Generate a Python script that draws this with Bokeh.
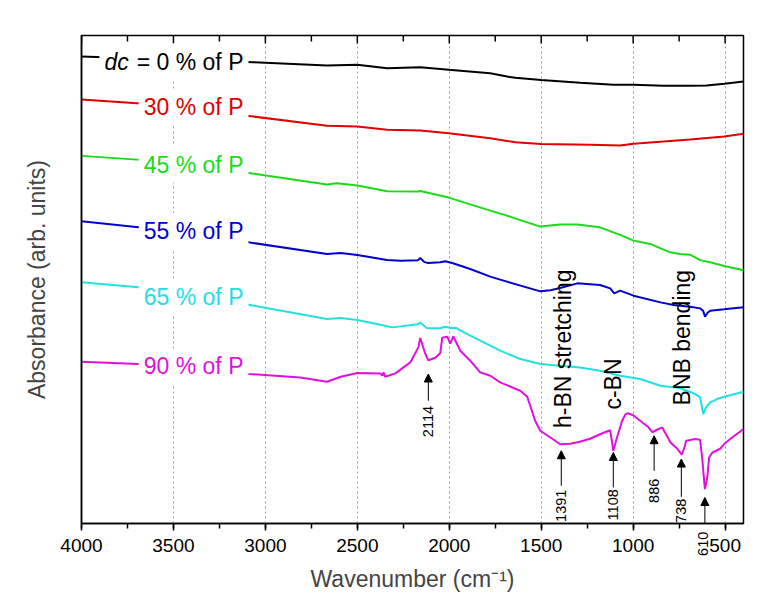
import math
from bokeh.plotting import figure
from bokeh.models import (Range1d, SingleIntervalTicker, FixedTicker,
                          Label, Arrow, NormalHead)
from bokeh.embed import file_html
from bokeh.resources import INLINE

# ---------------- data (wavenumber in cm-1, absorbance in arb. units, offset) ----------
wn_0 = [4000, 3065, 2665, 2500, 2338, 2158, 2003, 1777, 1686, 1641, 1500, 1288, 1107,
        998, 836, 690, 600, 505, 400]
ab_0 = [4.667, 4.610, 4.577, 4.584, 4.550, 4.560, 4.534, 4.500, 4.467, 4.454, 4.432,
        4.404, 4.384, 4.384, 4.374, 4.375, 4.377, 4.394, 4.417]

wn_30 = [4000, 3679, 3065, 2665, 2500, 2338, 2158, 2003, 1777, 1641, 1500, 1234, 1071,
         998, 690, 505, 400]
ab_30 = [4.237, 4.197, 4.067, 3.974, 3.967, 3.934, 3.927, 3.900, 3.850, 3.810, 3.792,
         3.784, 3.777, 3.794, 3.837, 3.867, 3.894]

wn_45 = [4000, 3679, 3081, 2665, 2612, 2500, 2338, 2170, 2158, 2003, 1777, 1686, 1505,
         1397, 1304, 1180, 1071, 998, 908, 800, 745, 690, 636, 581, 505, 400]
ab_45 = [3.674, 3.634, 3.500, 3.387, 3.400, 3.377, 3.320, 3.317, 3.322, 3.257, 3.127,
         3.077, 2.967, 2.987, 2.987, 2.960, 2.884, 2.827, 2.794, 2.710, 2.694, 2.687,
         2.632, 2.610, 2.574, 2.530]

wn_55 = [4000, 3690, 3091, 2665, 2590, 2500, 2338, 2266, 2170, 2158, 2135, 2114, 2049,
         2022, 1984, 1886, 1777, 1723, 1505, 1450, 1397, 1304, 1180, 1125, 1103, 1071,
         998, 851, 780, 690, 636, 620, 609, 595, 581, 505, 400]
ab_55 = [3.020, 2.960, 2.810, 2.694, 2.704, 2.684, 2.634, 2.627, 2.632, 2.654, 2.612,
         2.604, 2.610, 2.620, 2.604, 2.544, 2.467, 2.437, 2.320, 2.332, 2.354, 2.400,
         2.384, 2.350, 2.300, 2.327, 2.277, 2.210, 2.184, 2.167, 2.150, 2.127, 2.067,
         2.107, 2.127, 2.140, 2.160]

wn_65 = [4000, 3690, 3091, 2665, 2590, 2500, 2375, 2310, 2170, 2158, 2120, 2049, 2022,
         1984, 1967, 1886, 1723, 1614, 1505, 1397, 1288, 1180, 1071, 962, 851, 745, 663,
         636, 619, 604, 581, 560, 540, 505, 400]
ab_65 = [2.410, 2.360, 2.187, 2.044, 2.054, 2.034, 1.987, 1.960, 1.992, 2.007, 1.952,
         1.952, 1.967, 1.952, 1.957, 1.877, 1.727, 1.644, 1.594, 1.577, 1.560, 1.527,
         1.477, 1.444, 1.377, 1.354, 1.294, 1.260, 1.094, 1.160, 1.210, 1.227, 1.247,
         1.267, 1.317]

wn_90 = [4000, 3690, 3091, 2810, 2665, 2590, 2500, 2375, 2364, 2357, 2349, 2293, 2212,
         2168, 2158, 2130, 2114, 2076, 2049, 2038, 2011, 1995, 1978, 1940, 1886, 1832,
         1777, 1723, 1614, 1576, 1533, 1505, 1440, 1397, 1342, 1290, 1234, 1180, 1125,
         1108, 1090, 1060, 1043, 1028, 1000, 962, 920, 896, 870, 842, 826, 797, 760, 745,
         735, 720, 712, 690, 663, 636, 625, 610, 597, 587, 570, 549, 527, 505, 472, 400]
ab_90 = [1.617, 1.594, 1.494, 1.460, 1.417, 1.467, 1.504, 1.500, 1.477, 1.510, 1.467,
         1.500, 1.610, 1.760, 1.854, 1.694, 1.632, 1.657, 1.702, 1.857, 1.867, 1.797,
         1.870, 1.727, 1.627, 1.510, 1.477, 1.410, 1.327, 1.267, 1.027, 0.927, 0.847,
         0.792, 0.797, 0.817, 0.847, 0.892, 0.932, 0.727, 0.847, 1.027, 1.087, 1.102,
         1.082, 1.027, 0.967, 0.912, 0.937, 0.960, 0.907, 0.810, 0.747, 0.710, 0.687,
         0.767, 0.827, 0.834, 0.844, 0.837, 0.660, 0.344, 0.460, 0.660, 0.707, 0.727,
         0.747, 0.794, 0.844, 0.944]

series_wn = [wn_0, wn_30, wn_45, wn_55, wn_65, wn_90]
series_ab = [ab_0, ab_30, ab_45, ab_55, ab_65, ab_90]
series_labels = ["= 0 % of P", "30 % of P", "45 % of P", "55 % of P", "65 % of P", "90 % of P"]
series_colors = ["#000000", "#e00000", "#18dc18", "#0000d0", "#22e0e0", "#e010e0"]

# marked peaks (cm-1)
peak_wn = [2114, 1391, 1108, 886, 738, 610]
peak_text = ["2114", "1391", "1108", "886", "738", "610"]

band_text = ["h-BN stretching", "c-BN", "BNB bending"]

# x ticks (cm-1)
major_ticks = [500, 1000, 1500, 2000, 2500, 3000, 3500, 4000]
minor_ticks = [750, 1250, 1750, 2250, 2750, 3250, 3750]

# ---------------- layout / placement ----------------
X0, X1, Y0, Y1 = 4000, 400, 0, 4.877
label_x = 3092
label_y = [4.617, 4.160, 3.587, 2.920, 2.267, 1.570]
arrow_tip = [1.494, 0.727, 0.710, 0.877, 0.644, 0.260]
arrow_tail = [1.227, 0.377, 0.360, 0.527, 0.267, 0.0]
ptext_x = [2114, 1391, 1108, 886, 738, 618]
ptext_y = [1.019, 0.177, 0.187, 0.327, 0.127, -0.203]
band_x = [1382, 1107, 735]
band_y = [1.747, 1.394, 1.857]

FONT = "Liberation Sans"

p = figure(width=759, height=596, x_range=Range1d(X0, X1), y_range=Range1d(Y0, Y1),
           output_backend="svg", toolbar_location=None,
           min_border_left=81, min_border_right=16, min_border_top=35, min_border_bottom=73,
           x_axis_label="Wavenumber (cm\u207b\u00b9)", y_axis_label="Absorbance (arb. units)")
p.background_fill_color = "white"
p.border_fill_color = "white"
p.outline_line_color = "black"
p.outline_line_width = 1.5
p.ygrid.visible = False

xt = SingleIntervalTicker(interval=500, num_minor_ticks=2)
bx = p.xaxis[0]
bx.ticker = xt
bx.axis_line_width = 1.5
bx.major_tick_line_width = 1.5
bx.minor_tick_line_width = 1.5
bx.major_tick_in = 0
bx.major_tick_out = 7
bx.minor_tick_in = 0
bx.minor_tick_out = 5
bx.major_label_standoff = 8
bx.major_label_text_font = FONT
bx.major_label_text_font_size = "19px"
bx.major_label_text_color = "black"
bx.axis_label_text_font = FONT
bx.axis_label_text_font_size = "23px"
bx.axis_label_text_font_style = "normal"
bx.axis_label_standoff = 11

p.xgrid.ticker = xt
p.xgrid.grid_line_color = "#9a9a9a"
p.xgrid.grid_line_dash = "2 3"
p.xgrid.grid_line_width = 1

ly = p.yaxis[0]
ly.ticker = FixedTicker(ticks=[])
ly.axis_line_width = 1.5
ly.major_tick_out = 0
ly.minor_tick_out = 0
ly.axis_label_text_font = FONT
ly.axis_label_text_font_size = "23px"
ly.axis_label_text_font_style = "normal"
ly.axis_label_standoff = 32

# inward ticks along the top frame edge (half of each dash is clipped by the frame)
p.scatter(major_ticks, [Y1] * len(major_ticks), marker="dash", angle=math.pi / 2,
          size=16, line_color="black", line_width=1.5)
p.scatter(minor_ticks, [Y1] * len(minor_ticks), marker="dash", angle=math.pi / 2,
          size=12, line_color="black", line_width=1.5)

for wn, ab, col in zip(series_wn, series_ab, series_colors):
    p.line(wn, ab, line_color=col, line_width=2)

# series labels (white boxes interrupt curves and grid)
p.add_layout(Label(x=3716, y=label_y[0], text="dc", text_align="right",
                   text_baseline="middle", text_color="black", text_font=FONT,
                   text_font_size="23px", text_font_style="italic",
                   background_fill_color="white", padding=5))
for txt, col, yy in zip(series_labels, series_colors, label_y):
    p.add_layout(Label(x=label_x, y=yy, text=txt, text_align="right", text_baseline="middle",
                       text_color=col, text_font=FONT, text_font_size="23px",
                       background_fill_color="white", padding=5))

# peak arrows and numbers
for xw, tip, tail, tx, ty, t in zip(peak_wn, arrow_tip, arrow_tail, ptext_x, ptext_y, peak_text):
    p.add_layout(Arrow(x_start=xw, y_start=tail, x_end=xw, y_end=tip, line_width=1,
                       line_color="black",
                       end=NormalHead(size=8, fill_color="black", line_color="black")))
    lab = Label(x=tx, y=ty, text=t, angle=math.pi / 2, text_align="center",
                text_baseline="middle", text_font=FONT, text_font_size="14.5px",
                text_color="black")
    if ty < Y0:
        # below the frame: put it in a side panel so that it is not clipped
        p.add_layout(lab, "above")
    else:
        p.add_layout(lab)

for t, bxp, byp in zip(band_text, band_x, band_y):
    p.add_layout(Label(x=bxp, y=byp, text=t, angle=math.pi / 2, text_align="center",
                       text_baseline="middle", text_font=FONT, text_font_size="23px",
                       text_color="black"))

open("out.html", "w").write(file_html(p, INLINE))
